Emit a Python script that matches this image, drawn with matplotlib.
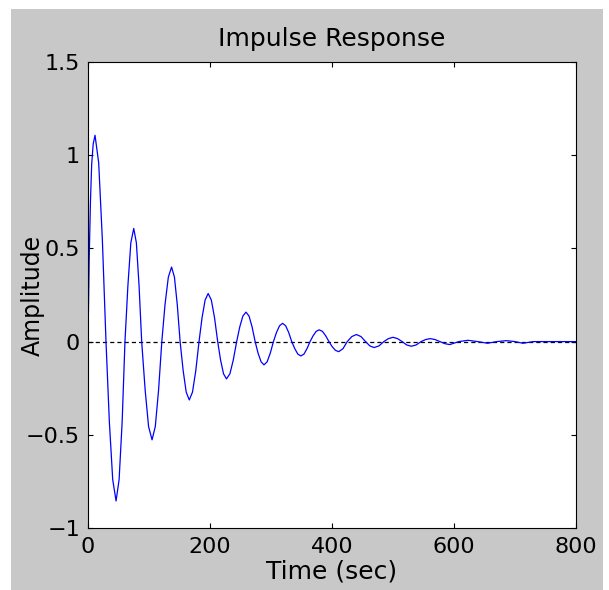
"""Impulse response plot in the old MATLAB figure style."""

import matplotlib

matplotlib.use("Agg")
import matplotlib.pyplot as plt
from matplotlib.patches import Rectangle
from matplotlib.ticker import FuncFormatter

# Values (time in sec, amplitude).
time_s = [
    0, 2, 4, 6, 8.5, 11.5,
    17.5, 23.5, 29.5,
    35, 40.5, 46,
    51, 56, 60.6,
    65.4, 70.2, 75,
    79.3, 83.7, 88,
    93.7, 99.3, 105,
    110.3, 115.7, 121,
    126.3, 131.7, 137,
    141.7, 146.3, 151,
    156, 161, 166,
    171.3, 176.7, 182,
    187, 192, 197,
    202.2, 207.4, 212.6,
    217.4, 222.2, 227,
    232.6, 238.1, 243.7,
    248.8, 253.9, 259,
    264, 269, 274,
    278.8, 283.7, 288.5,
    293.7, 298.8, 304,
    309, 314, 319,
    324, 329, 334,
    339, 344, 349,
    354, 359, 364,
    369, 374, 379,
    384.3, 389.7, 395,
    400.3, 405.7, 411,
    418, 425, 432.5, 440, 447.5, 455,
    462, 469, 477, 485, 492.5, 500, 507.5, 515,
    522.5, 530, 538, 546, 553.5, 561, 569, 577,
    585, 593, 608, 623, 639, 655, 670, 686, 700, 713, 730, 800,
]
amplitude = [
    0.0, 0.45, 0.75, 0.95, 1.06, 1.107,
    0.96, 0.55, 0.0,
    -0.43, -0.74, -0.855,
    -0.74, -0.43, 0.0,
    0.30, 0.53, 0.607,
    0.53, 0.30, 0.0,
    -0.26, -0.456, -0.527,
    -0.456, -0.26, 0.0,
    0.20, 0.346, 0.40,
    0.346, 0.20, 0.0,
    -0.156, -0.271, -0.313,
    -0.271, -0.156, 0.0,
    0.129, 0.223, 0.258,
    0.223, 0.129, 0.0,
    -0.10, -0.173, -0.20,
    -0.173, -0.10, 0.0,
    0.079, 0.137, 0.158,
    0.137, 0.079, 0.0,
    -0.062, -0.108, -0.125,
    -0.108, -0.062, 0.0,
    0.049, 0.085, 0.098,
    0.085, 0.049, 0.0,
    -0.038, -0.067, -0.077,
    -0.067, -0.038, 0.0,
    0.031, 0.055, 0.063,
    0.055, 0.031, 0.0,
    -0.027, -0.047, -0.054,
    -0.038, 0.0, 0.027, 0.038, 0.027, 0.0,
    -0.023, -0.032, -0.023, 0.0, 0.016, 0.023, 0.016, 0.0,
    -0.018, -0.025, -0.018, 0.0, 0.011, 0.016, 0.011, 0.0,
    -0.011, -0.016, 0.0, 0.007, 0.0, -0.009, 0.0, 0.005, 0.0, -0.009, 0.0, 0.0,
]

x_ticks = [0, 200, 400, 600, 800]
y_ticks = [-1, -0.5, 0, 0.5, 1, 1.5]


def _matlab_number(value, _pos=None):
    text = f"{value:g}"
    return text.replace("-", "\u2212")


plt.rcParams["font.family"] = ["DejaVu Sans"]
plt.rcParams["lines.scale_dashes"] = False

fig = plt.figure(figsize=(6.09, 5.90), dpi=100, facecolor="white")
fig.patches.append(
    Rectangle((0.018, 0.0), 0.972, 0.985, transform=fig.transFigure,
              facecolor="#c8c8c8", edgecolor="none", zorder=-1)
)

ax = fig.add_axes([0.1445, 0.1051, 0.8013, 0.7898])
ax.set_facecolor("white")

ax.axhline(0, color="black", lw=0.9, dashes=[3, 2.2], zorder=1)
ax.plot(time_s, amplitude, color="#0000ff", lw=0.9, zorder=2)

ax.set_xlim(0, 800)
ax.set_ylim(-1, 1.5)
ax.set_xticks(x_ticks)
ax.set_yticks(y_ticks)
ax.xaxis.set_major_formatter(FuncFormatter(_matlab_number))
ax.yaxis.set_major_formatter(FuncFormatter(_matlab_number))
ax.tick_params(direction="in", length=3.6, width=0.8, top=True, right=True,
               labelsize=16, colors="black")
ax.tick_params(axis="y", pad=5.8)
ax.tick_params(axis="x", pad=6.5)
for spine in ax.spines.values():
    spine.set_linewidth(0.8)
    spine.set_color("black")

ax.set_title("Impulse Response", fontsize=18, pad=11.5)
ax.set_xlabel("Time (sec)", fontsize=18, labelpad=2)
ax.set_ylabel("Amplitude", fontsize=17)
ax.yaxis.set_label_coords(-0.088, 0.5)

fig.savefig("out.png", dpi=100, facecolor=fig.get_facecolor())
plt.close(fig)
